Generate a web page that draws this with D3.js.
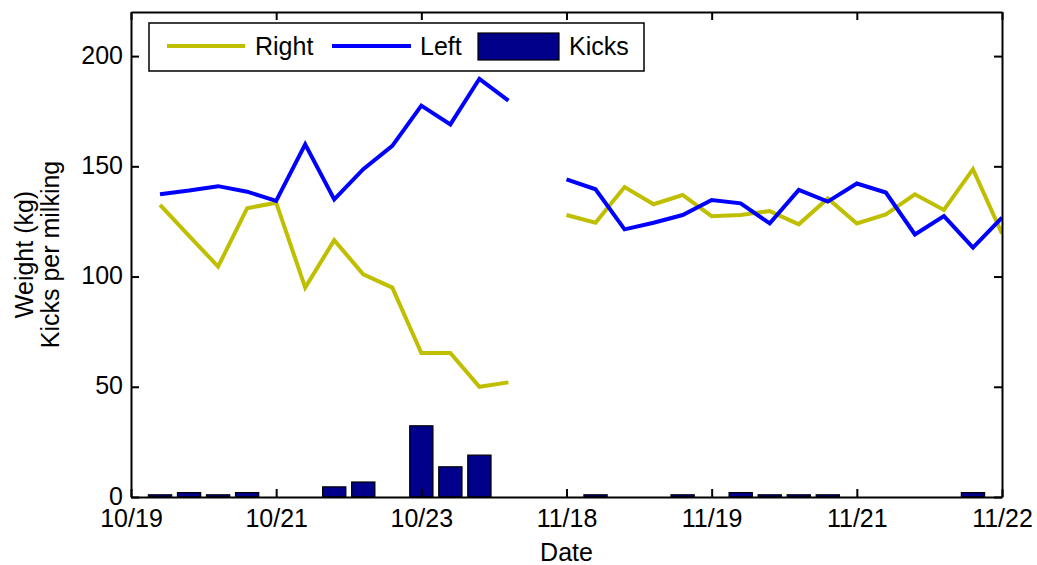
<!DOCTYPE html>
<html>
<head>
<meta charset="utf-8">
<script src="https://cdn.jsdelivr.net/npm/d3@7"></script>
<style>
  body { margin: 0; background: #fff; }
  text { font-family: "Liberation Sans", Arial, sans-serif; fill: #000; }
</style>
</head>
<body>
<div id="chart"></div>
<script>
// milking index (two per day, axis broken between 10/23 and 11/18)
const tickIdx = [0, 5, 10, 15, 20, 25, 30];
const tickLabels = ['10/19', '10/21', '10/23', '11/18', '11/19', '11/21', '11/22'];

const idxA = [1, 2, 3, 4, 5, 6, 7, 8, 9, 10, 11, 12, 13];
const rightA = [132.5, 118.5, 104.5, 131, 133.5, 95, 116.5, 101, 95, 65.3, 65.3, 50, 52];
const leftA = [137.3, 139, 141, 138.5, 134.3, 160, 135, 148.7, 159.3, 177.5, 169, 189.7, 179.8];

const idxB = [15, 16, 17, 18, 19, 20, 21, 22, 23, 24, 25, 26, 27, 28, 29, 30];
const rightB = [127.9, 124.4, 140.6, 132.8, 137, 127.4, 127.9, 129.7, 123.7, 135.4, 124.1, 128.2, 137.3, 130.2, 148.7, 119.5];
const leftB = [144.1, 139.6, 121.4, 124.4, 127.9, 134.7, 133.2, 124.1, 139.3, 134, 142.2, 138.1, 119.1, 127.4, 113.1, 126.7];

const kickIdx = [1, 2, 3, 4, 7, 8, 10, 11, 12, 16, 19, 21, 22, 23, 24, 29];
const kicks = [1, 2, 1, 2, 4.6, 6.8, 32.3, 13.7, 19, 1, 1, 2, 1, 1, 1, 2];

const yTicks = [0, 50, 100, 150, 200];

const W = 1037, H = 565;
const margin = { top: 12, right: 35, bottom: 68, left: 131 };
const width = W - margin.left - margin.right;
const height = H - margin.top - margin.bottom;

const yellow = '#bfbf00', blue = '#0000ff', navy = '#00008b';

const svg = d3.select('#chart').append('svg')
  .attr('width', W).attr('height', H);

const g = svg.append('g')
  .attr('transform', `translate(${margin.left},${margin.top})`);

const x = d3.scaleLinear().domain([0, 30]).range([0, width]);
const y = d3.scaleLinear().domain([0, 220]).range([height, 0]);

g.append('clipPath').attr('id', 'clip')
  .append('rect').attr('width', width).attr('height', height);

const plot = g.append('g').attr('clip-path', 'url(#clip)');

// kicks bars
const bw = (x(1) - x(0)) * 0.8;
plot.selectAll('.bar')
  .data(kickIdx.map((d, i) => ({ i: d, v: kicks[i] })))
  .enter()
  .append('rect')
  .attr('class', 'bar')
  .attr('x', d => x(d.i) - bw / 2)
  .attr('width', bw)
  .attr('y', d => y(d.v))
  .attr('height', d => height - y(d.v))
  .attr('fill', navy)
  .attr('stroke', '#000')
  .attr('stroke-width', 1.2);

const line = d3.line().x(d => x(d[0])).y(d => y(d[1]));

function drawLine(idx, vals, color) {
  plot.append('path')
    .datum(idx.map((d, i) => [d, vals[i]]))
    .attr('d', line)
    .attr('fill', 'none')
    .attr('stroke', color)
    .attr('stroke-width', 4)
    .attr('stroke-linejoin', 'miter');
}

drawLine(idxA, rightA, yellow);
drawLine(idxB, rightB, yellow);
drawLine(idxA, leftA, blue);
drawLine(idxB, leftB, blue);

// axes (inward ticks, boxed)
const fs = '25px';
const xb = g.append('g').attr('transform', `translate(0,${height})`)
  .call(d3.axisBottom(x).tickValues(tickIdx).tickFormat((d, i) => tickLabels[i])
    .tickSizeInner(-8).tickSizeOuter(0).tickPadding(14));
const xt = g.append('g')
  .call(d3.axisTop(x).tickValues(tickIdx).tickFormat('')
    .tickSizeInner(-8).tickSizeOuter(0));
const yl = g.append('g')
  .call(d3.axisLeft(y).tickValues(yTicks)
    .tickSizeInner(-8).tickSizeOuter(0).tickPadding(16));
const yr = g.append('g').attr('transform', `translate(${width},0)`)
  .call(d3.axisRight(y).tickValues(yTicks).tickFormat('')
    .tickSizeInner(-8).tickSizeOuter(0));

[xb, xt, yl, yr].forEach(a => {
  a.select('.domain').attr('stroke', '#000').attr('stroke-width', 2);
  a.selectAll('.tick line').attr('stroke', '#000').attr('stroke-width', 2);
  a.selectAll('.tick text').style('font-size', fs)
    .style('font-family', '"Liberation Sans", Arial, sans-serif').attr('fill', '#000');
});
xb.selectAll('.tick text').attr('dy', '0.62em');
yl.selectAll('.tick text').attr('dx', '8').attr('dy', '0.28em');

// axis titles
svg.append('text')
  .attr('x', margin.left + x(15)).attr('y', 561)
  .attr('text-anchor', 'middle').style('font-size', fs)
  .text('Date');

const yt = svg.append('text')
  .attr('transform', `translate(33,${margin.top + height / 2}) rotate(-90)`)
  .attr('text-anchor', 'middle').style('font-size', fs);
yt.append('tspan').attr('x', 0).attr('dy', 0).text('Weight (kg)');
yt.append('tspan').attr('x', 0).attr('dy', 26).text('Kicks per milking');

// legend
const lg = svg.append('g');
lg.append('rect')
  .attr('x', 149).attr('y', 23).attr('width', 495).attr('height', 48)
  .attr('fill', '#fff').attr('stroke', '#000').attr('stroke-width', 1.5);

const legendItems = [
  { label: 'Right', color: yellow, type: 'line', x0: 167, x1: 245, tx: 255 },
  { label: 'Left', color: blue, type: 'line', x0: 332, x1: 411, tx: 420 },
  { label: 'Kicks', color: navy, type: 'rect', x0: 478, x1: 559, tx: 569 }
];
legendItems.forEach(it => {
  if (it.type === 'line') {
    lg.append('line')
      .attr('x1', it.x0).attr('x2', it.x1).attr('y1', 46).attr('y2', 46)
      .attr('stroke', it.color).attr('stroke-width', 4);
  } else {
    lg.append('rect')
      .attr('x', it.x0).attr('y', 33).attr('width', it.x1 - it.x0).attr('height', 27)
      .attr('fill', it.color).attr('stroke', '#000').attr('stroke-width', 1.2);
  }
  lg.append('text')
    .attr('x', it.tx).attr('y', 55)
    .style('font-size', fs)
    .text(it.label);
});
</script>
</body>
</html>
